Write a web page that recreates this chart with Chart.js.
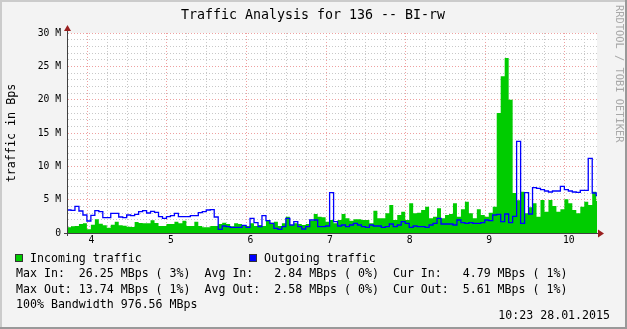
<!DOCTYPE html>
<html>
<head>
<meta charset="utf-8">
<title>Traffic Analysis for 136 -- BI-rw</title>
<script src="https://cdn.jsdelivr.net/npm/chart.js@4.4.1/dist/chart.umd.min.js"></script>
<style>
  html, body { margin: 0; padding: 0; background: #f3f3f3; }
  #chart { display: block; }
</style>
</head>
<body>
<canvas id="chart" width="627" height="329"></canvas>
<script>
'use strict';

// one sample every 3 minutes, first one at ~03:44.7 (hours on the x axis)
const startHour = 3.745;
const endHour = 10.405;
const stepHours = 0.05;

// M bits/s
const incoming = [
  0.85, 1.0, 1.05, 1.35, 1.45, 0.55, 1.25, 2.05, 1.4, 1.15,
  0.8, 1.25, 1.7, 1.15, 1.1, 0.95, 0.9, 1.65, 1.5, 1.45,
  1.45, 1.9, 1.5, 1.05, 1.05, 1.35, 1.35, 1.7, 1.45, 1.85,
  1.05, 1.05, 1.7, 1.05, 0.85, 0.85, 1.05, 1.05, 1.35, 1.55,
  1.35, 1.0, 1.45, 1.35, 1.2, 1.05, 1.45, 1.05, 1.2, 1.05,
  1.85, 1.55, 1.7, 1.05, 1.45, 2.45, 1.2, 1.45, 1.35, 1.2,
  1.35, 1.85, 2.85, 2.45, 2.35, 1.7, 1.95, 1.45, 1.95, 2.85,
  2.2, 1.85, 2.05, 2.05, 1.95, 1.95, 1.45, 3.35, 2.2, 2.2,
  2.95, 4.2, 1.95, 2.7, 3.2, 1.95, 4.45, 2.95, 3.05, 3.45,
  3.95, 2.2, 2.45, 3.7, 2.2, 2.7, 2.85, 4.45, 2.45, 3.55,
  4.7, 2.95, 2.2, 3.55, 2.7, 2.45, 3.05, 3.95, 18.0, 23.5,
  26.25, 20.0, 6.0, 4.9, 6.2, 2.95, 3.85, 4.45, 2.45, 4.95,
  3.2, 4.95, 4.05, 3.2, 3.55, 5.05, 4.45, 3.45, 2.95, 3.95,
  4.7, 4.2, 6.2, 4.79
];
const outgoing = [
  3.45, 3.4, 4.0, 3.3, 2.7, 1.8, 2.65, 3.35, 3.2, 2.3,
  2.3, 2.95, 2.95, 2.4, 2.3, 2.7, 2.6, 2.8, 3.2, 3.35,
  3.0, 3.25, 3.1, 2.45, 2.2, 2.45, 2.6, 2.95, 2.45, 2.45,
  2.45, 2.6, 2.6, 3.05, 3.2, 3.45, 3.5, 2.4, 0.55, 1.05,
  0.95, 0.85, 0.85, 0.85, 1.15, 0.85, 2.2, 1.55, 0.95, 2.6,
  1.85, 1.45, 0.7, 0.55, 0.95, 2.2, 1.2, 1.7, 0.95, 0.6,
  0.95, 1.95, 1.95, 0.95, 0.95, 1.05, 6.05, 1.7, 1.05, 1.2,
  0.95, 1.2, 1.45, 1.2, 0.95, 0.85, 1.2, 1.05, 1.05, 0.85,
  0.95, 1.35, 0.95, 1.2, 1.7, 1.45, 0.85, 1.05, 0.95, 0.95,
  0.85, 1.2, 1.45, 2.2, 1.35, 1.35, 1.35, 1.2, 1.95, 1.55,
  1.45, 1.55, 1.45, 1.45, 1.55, 1.95, 1.85, 2.7, 2.8, 1.7,
  2.85, 1.55, 2.5, 13.74, 1.45, 6.05, 2.85, 6.8, 6.7, 6.5,
  6.3, 6.15, 6.3, 6.3, 7.0, 6.5, 6.3, 6.15, 6.1, 6.4,
  6.4, 11.2, 6.0, 5.61
];

const chartTitle = 'Traffic Analysis for 136 -- BI-rw';
const yTitle = 'traffic in Bps';
const seriesNames = ['Incoming traffic', 'Outgoing traffic'];
const seriesColors = ['#00cc00', '#0000ff'];
const statLines = [
  'Max In:  26.25 MBps ( 3%)  Avg In:   2.84 MBps ( 0%)  Cur In:   4.79 MBps ( 1%)',
  'Max Out: 13.74 MBps ( 1%)  Avg Out:  2.58 MBps ( 0%)  Cur Out:  5.61 MBps ( 1%)',
  '100% Bandwidth 976.56 MBps'
];
const stampText = '10:23 28.01.2015';
const watermark = 'RRDTOOL / TOBI OETIKER';

const mono = 'DejaVu Sans Mono';
const minorGrid = '#c8c8c8';
const majorGrid = '#eea0a0';

// each sample holds until the next one, so add a closing point
function toPoints(values) {
  let pts = values.map((v, i) => ({ x: startHour + i * stepHours, y: v }));
  pts.push({ x: startHour + values.length * stepHours, y: values[values.length - 1] });
  return pts;
}

function isWhole(v) {
  return Math.abs(v - Math.round(v)) < 1e-6;
}

const rrdDecor = {
  id: 'rrdDecor',
  beforeDraw(chart) {
    const { ctx, width, height, chartArea: a } = chart;
    ctx.save();
    ctx.fillStyle = '#f3f3f3';
    ctx.fillRect(0, 0, width, height);
    ctx.fillStyle = '#ffffff';
    ctx.fillRect(a.left, a.top, a.right - a.left, a.bottom - a.top);
    ctx.restore();
  },
  afterDraw(chart) {
    const { ctx, width, height, chartArea: a } = chart;
    ctx.save();

    // axes with arrow heads
    ctx.strokeStyle = '#404040';
    ctx.lineWidth = 1;
    ctx.beginPath();
    ctx.moveTo(a.left + 0.5, a.bottom + 3);
    ctx.lineTo(a.left + 0.5, a.top - 4);
    ctx.moveTo(a.left - 3, a.bottom + 0.5);
    ctx.lineTo(a.right + 2, a.bottom + 0.5);
    ctx.stroke();
    ctx.fillStyle = '#9a1f1f';
    ctx.beginPath();
    ctx.moveTo(a.left - 3, a.top - 2);
    ctx.lineTo(a.left + 4, a.top - 2);
    ctx.lineTo(a.left + 0.5, a.top - 8);
    ctx.closePath();
    ctx.fill();
    ctx.beginPath();
    ctx.moveTo(a.right + 1, a.bottom - 3.5);
    ctx.lineTo(a.right + 1, a.bottom + 4.5);
    ctx.lineTo(a.right + 7, a.bottom + 0.5);
    ctx.closePath();
    ctx.fill();

    // title
    ctx.fillStyle = '#000';
    ctx.font = '13.3px "' + mono + '"';
    ctx.textAlign = 'center';
    ctx.textBaseline = 'middle';
    ctx.fillText(chartTitle, 313, 16);

    // legend
    ctx.font = '11.6px "' + mono + '"';
    ctx.textAlign = 'left';
    const legendX = [15, 249];
    seriesNames.forEach((name, i) => {
      ctx.fillStyle = seriesColors[i];
      ctx.fillRect(legendX[i], 254, 8, 8);
      ctx.strokeStyle = '#333';
      ctx.strokeRect(legendX[i] + 0.5, 254.5, 7, 7);
      ctx.fillStyle = '#000';
      ctx.fillText(name, legendX[i] + 15, 259);
    });
    statLines.forEach((line, i) => {
      ctx.fillText(line, 16, 274 + i * 15.5);
    });
    ctx.textAlign = 'right';
    ctx.fillText(stampText, 610, 316);

    // watermark on the right edge
    ctx.translate(619, 5);
    ctx.rotate(Math.PI / 2);
    ctx.font = '10.4px "' + mono + '"';
    ctx.fillStyle = '#a8a8a8';
    ctx.textAlign = 'left';
    ctx.fillText(watermark, 0, 0);
    ctx.setTransform(1, 0, 0, 1, 0, 0);

    // shaded frame
    ctx.fillStyle = '#cbcbcb';
    ctx.fillRect(0, 0, width, 2);
    ctx.fillRect(0, 0, 2, height);
    ctx.fillStyle = '#999999';
    ctx.fillRect(0, height - 2, width, 2);
    ctx.fillRect(width - 2, 0, 2, height);
    ctx.restore();
  }
};

let canvasElem = document.getElementById('chart');

new Chart(canvasElem, {
  type: 'line',
  data: {
    datasets: [
      {
        label: seriesNames[0],
        data: toPoints(incoming),
        stepped: true,
        fill: 'origin',
        backgroundColor: seriesColors[0],
        borderColor: seriesColors[0],
        borderWidth: 0,
        pointRadius: 0,
        order: 2
      },
      {
        label: seriesNames[1],
        data: toPoints(outgoing),
        stepped: true,
        fill: false,
        borderColor: seriesColors[1],
        borderWidth: 1.3,
        pointRadius: 0,
        order: 1
      }
    ]
  },
  options: {
    responsive: false,
    animation: false,
    devicePixelRatio: 1,
    layout: { padding: { left: 0, top: 33, right: 30, bottom: 0 } },
    plugins: {
      legend: { display: false },
      tooltip: { enabled: false },
      title: { display: false }
    },
    scales: {
      x: {
        type: 'linear',
        min: startHour,
        max: endHour,
        afterFit: (scale) => { scale.height = 96; },
        ticks: {
          stepSize: 0.25,
          includeBounds: false,
          autoSkip: false,
          maxRotation: 0,
          padding: 2,
          labelOffset: 4,
          color: '#000',
          font: { family: mono, size: 9.7 },
          callback: (v) => isWhole(v) ? String(Math.round(v)) : ''
        },
        grid: {
          drawTicks: false,
          lineWidth: 1,
          color: (c) => (c.tick && isWhole(c.tick.value)) ? majorGrid : minorGrid
        },
        border: { display: true, color: '#404040', width: 1, dash: [1, 2] }
      },
      y: {
        min: 0,
        max: 30,
        afterFit: (scale) => { scale.width = 67; },
        title: {
          display: true,
          text: yTitle,
          color: '#000',
          font: { family: mono, size: 11.7 },
          padding: { top: 5, bottom: 0 }
        },
        ticks: {
          stepSize: 1,
          autoSkip: false,
          padding: 6,
          color: '#000',
          font: { family: mono, size: 9.7 },
          callback: (v) => v % 5 === 0 ? (v === 0 ? '0' : v + ' M') : ''
        },
        grid: {
          drawTicks: false,
          lineWidth: 1,
          color: (c) => (c.tick && c.tick.value % 5 === 0) ? majorGrid : minorGrid
        },
        border: { display: true, color: '#404040', width: 1, dash: [1, 2] }
      }
    }
  },
  plugins: [rrdDecor]
});
</script>
</body>
</html>
